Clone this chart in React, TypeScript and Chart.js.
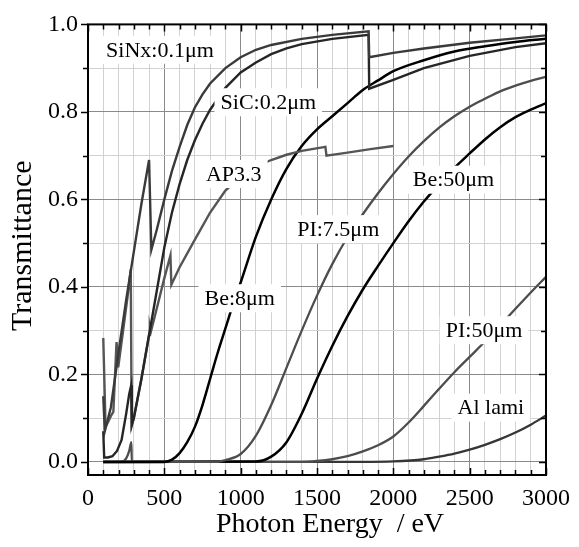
import React, { useEffect, useRef } from 'react';
import { Chart, registerables } from 'chart.js';

Chart.register(...registerables);

// ---- Data (photon energy in eV, transmittance) ----
const sinxE = [100, 110, 150, 200, 250, 300, 350, 400, 415, 450, 500, 550, 600, 650, 700, 750, 800, 900, 1000, 1100, 1200, 1400, 1600, 1838, 1842, 2000, 2200, 2500, 2800, 3000];
const sinxT = [0.15, 0.07, 0.125, 0.25, 0.37, 0.48, 0.59, 0.69, 0.485, 0.53, 0.6, 0.665, 0.72, 0.77, 0.81, 0.84, 0.865, 0.9, 0.925, 0.942, 0.953, 0.967, 0.976, 0.984, 0.925, 0.935, 0.945, 0.958, 0.968, 0.975];

const sicE = [100, 106, 130, 160, 190, 220, 250, 270, 283, 287, 300, 350, 400, 450, 500, 550, 600, 650, 700, 750, 800, 900, 1000, 1100, 1200, 1300, 1400, 1600, 1838, 1842, 2000, 2200, 2500, 2800, 3000];
const sicT = [0.07, 0.01, 0.01, 0.013, 0.025, 0.05, 0.11, 0.155, 0.175, 0.085, 0.1, 0.19, 0.29, 0.39, 0.49, 0.57, 0.635, 0.69, 0.735, 0.773, 0.805, 0.855, 0.89, 0.913, 0.932, 0.945, 0.955, 0.967, 0.976, 0.853, 0.873, 0.9, 0.928, 0.948, 0.957];

const ap33E = [100, 115, 130, 150, 166, 187, 198, 230, 260, 280, 286, 300, 350, 400, 405, 412, 450, 500, 540, 546, 600, 700, 800, 900, 1000, 1100, 1200, 1300, 1400, 1555, 1562, 1700, 1850, 2000];
const ap33T = [0.283, 0.08, 0.09, 0.105, 0.114, 0.274, 0.216, 0.3, 0.38, 0.44, 0.082, 0.1, 0.19, 0.29, 0.31, 0.298, 0.35, 0.42, 0.472, 0.405, 0.445, 0.508, 0.57, 0.62, 0.652, 0.675, 0.69, 0.702, 0.711, 0.72, 0.7, 0.707, 0.715, 0.722];

const be8E = [100, 500, 550, 600, 650, 700, 750, 800, 850, 900, 950, 1000, 1100, 1200, 1300, 1400, 1500, 1600, 1700, 1800, 1900, 2000, 2200, 2400, 2600, 2800, 3000];
const be8T = [0, 0, 0.005, 0.02, 0.045, 0.08, 0.13, 0.19, 0.25, 0.305, 0.36, 0.41, 0.515, 0.6, 0.67, 0.722, 0.76, 0.79, 0.82, 0.85, 0.872, 0.893, 0.918, 0.938, 0.95, 0.96, 0.967];

const pi75E = [100, 220, 250, 270, 284, 287, 850, 900, 1000, 1100, 1200, 1300, 1400, 1500, 1600, 1700, 1800, 1900, 2000, 2100, 2200, 2300, 2400, 2500, 2600, 2700, 2800, 2900, 3000];
const pi75T = [0, 0, 0.008, 0.025, 0.045, 0, 0, 0.004, 0.018, 0.06, 0.13, 0.215, 0.3, 0.38, 0.452, 0.514, 0.566, 0.614, 0.658, 0.698, 0.733, 0.764, 0.79, 0.812, 0.83, 0.847, 0.86, 0.871, 0.88];

const be50E = [100, 1100, 1200, 1300, 1400, 1500, 1600, 1700, 1800, 1900, 2000, 2100, 2200, 2300, 2400, 2500, 2600, 2700, 2800, 2900, 3000];
const be50T = [0, 0.001, 0.012, 0.045, 0.11, 0.19, 0.265, 0.333, 0.394, 0.448, 0.5, 0.55, 0.595, 0.635, 0.672, 0.705, 0.737, 0.765, 0.788, 0.805, 0.82];

const pi50E = [100, 1400, 1500, 1600, 1700, 1800, 1900, 2000, 2100, 2200, 2300, 2400, 2500, 2600, 2700, 2800, 2900, 3000];
const pi50T = [0, 0, 0.002, 0.006, 0.013, 0.024, 0.038, 0.058, 0.09, 0.128, 0.167, 0.205, 0.24, 0.275, 0.312, 0.35, 0.387, 0.423];

const alE = [100, 1800, 2000, 2200, 2300, 2400, 2500, 2600, 2700, 2800, 2900, 3000];
const alT = [0, 0, 0.001, 0.006, 0.012, 0.019, 0.028, 0.039, 0.052, 0.067, 0.085, 0.106];

const curveLabels = ['SiNx:0.1μm', 'SiC:0.2μm', 'AP3.3', 'Be:8μm', 'PI:7.5μm', 'Be:50μm', 'PI:50μm', 'Al lami'];
const xTitle = 'Photon Energy  / eV';
const yTitle = 'Transmittance';

// label anchor points in data coordinates (energy, transmittance)
const labelAnchors: [number, number][] = [
  [471, 0.942], [1181, 0.822], [955, 0.658], [994, 0.374],
  [1639, 0.532], [2394, 0.645], [2594, 0.301], [2639, 0.124],
];

const seriesStyle = [
  { E: sinxE, T: sinxT, color: '#3a3a3a', width: 2.4, smooth: false },
  { E: sicE, T: sicT, color: '#262626', width: 2.4, smooth: false },
  { E: ap33E, T: ap33T, color: '#555555', width: 2.4, smooth: false },
  { E: be8E, T: be8T, color: '#000000', width: 2.5, smooth: true },
  { E: pi75E, T: pi75T, color: '#4d4d4d', width: 2.3, smooth: true },
  { E: be50E, T: be50T, color: '#000000', width: 2.5, smooth: true },
  { E: pi50E, T: pi50T, color: '#4d4d4d', width: 2.3, smooth: true },
  { E: alE, T: alT, color: '#363636', width: 2.3, smooth: true },
];

const SERIF = '"Liberation Serif", "Times New Roman", serif';

const decorPlugin = {
  id: 'decor',
  afterDatasetsDraw(chart: any) {
    const { ctx, chartArea: a, scales } = chart;
    const x = scales.x;
    const y = scales.y;
    ctx.save();
    // curve labels with white boxes
    ctx.font = `22px ${SERIF}`;
    ctx.textAlign = 'center';
    ctx.textBaseline = 'middle';
    curveLabels.forEach((t, i) => {
      const px = x.getPixelForValue(labelAnchors[i][0]);
      const py = y.getPixelForValue(labelAnchors[i][1]);
      const w = ctx.measureText(t).width;
      ctx.fillStyle = '#ffffff';
      ctx.fillRect(px - w / 2 - 6, py - 14, w + 12, 28);
      ctx.fillStyle = '#000000';
      ctx.fillText(t, px, py + 1);
    });
    // frame
    ctx.strokeStyle = '#000';
    ctx.lineWidth = 2;
    ctx.strokeRect(a.left, a.top, a.right - a.left, a.bottom - a.top);
    // tick marks
    ctx.lineWidth = 1.5;
    ctx.beginPath();
    for (let v = 0; v <= 3000; v += 100) {
      const px = Math.round(x.getPixelForValue(v)) + 0.5;
      const len = v % 500 === 0 ? 7 : 5;
      ctx.moveTo(px, a.top);
      ctx.lineTo(px, a.top + len);
      ctx.moveTo(px, a.bottom);
      ctx.lineTo(px, a.bottom - len);
    }
    for (let k = 0; k <= 10; k++) {
      const py = Math.round(y.getPixelForValue(k / 10)) + 0.5;
      const len = k % 2 === 0 ? 7 : 5;
      ctx.moveTo(a.left, py);
      ctx.lineTo(a.left - len, py);
      ctx.moveTo(a.right, py);
      ctx.lineTo(a.right - len, py);
    }
    ctx.stroke();
    // axis titles
    ctx.fillStyle = '#000';
    ctx.font = `28px ${SERIF}`;
    ctx.textAlign = 'center';
    ctx.textBaseline = 'alphabetic';
    ctx.fillText(xTitle, (a.left + a.right) / 2 + 13, a.bottom + 57);
    ctx.save();
    ctx.translate(a.left - 65, (a.top + a.bottom) / 2 - 4);
    ctx.rotate(-Math.PI / 2);
    ctx.font = `30px ${SERIF}`;
    ctx.textBaseline = 'middle';
    ctx.fillText(yTitle, 0, 0);
    ctx.restore();
    ctx.restore();
  },
};

export default function App() {
  const ref = useRef<HTMLCanvasElement | null>(null);
  useEffect(() => {
    if (!ref.current) return;
    const chart = new Chart(ref.current, {
      type: 'line',
      data: {
        datasets: seriesStyle.map((s) => ({
          data: s.E.map((e, i) => ({ x: e, y: s.T[i] })),
          borderColor: s.color,
          borderWidth: s.width,
          pointRadius: 0,
          tension: 0,
          cubicInterpolationMode: s.smooth ? 'monotone' : 'default',
          fill: false,
        })),
      },
      options: {
        animation: false,
        responsive: false,
        devicePixelRatio: 1,
        events: [],
        layout: { padding: { left: 0, right: 26, top: 20, bottom: 0 } },
        plugins: { legend: { display: false }, tooltip: { enabled: false }, title: { display: false } },
        scales: {
          x: {
            type: 'linear',
            min: 0,
            max: 3000,
            afterFit: (s: any) => { s.height = 72; },
            ticks: {
              stepSize: 100,
              autoSkip: false,
              maxRotation: 0,
              padding: 9,
              color: '#000',
              font: { family: SERIF, size: 24 },
              callback: (v: any) => (Number(v) % 500 === 0 ? String(v) : ''),
            },
            grid: {
              drawTicks: false,
              lineWidth: 1,
              color: (c: any) => (c.tick && c.tick.value % 500 === 0 ? '#8a8a8a' : '#d2d2d2'),
            },
            border: { display: false },
          },
          y: {
            type: 'linear',
            min: -0.03,
            max: 1.0,
            afterFit: (s: any) => { s.width = 88; },
            afterBuildTicks: (s: any) => {
              const t = [];
              for (let k = 0; k <= 10; k++) t.push({ value: k / 10 });
              s.ticks = t;
            },
            ticks: {
              autoSkip: false,
              padding: 10,
              color: '#000',
              font: { family: SERIF, size: 24 },
              callback: (v: any) => {
                const k = Math.round(Number(v) * 10);
                return k % 2 === 0 ? (k / 10).toFixed(1) : '';
              },
            },
            grid: {
              drawTicks: false,
              lineWidth: 1,
              color: (c: any) => {
                const k = Math.round((c.tick ? c.tick.value : 0) * 10);
                return k % 2 === 0 ? '#8a8a8a' : '#d2d2d2';
              },
            },
            border: { display: false },
          },
        },
      },
      plugins: [decorPlugin],
    } as any);
    return () => chart.destroy();
  }, []);
  return (
    <div style={{ position: 'absolute', left: 0, top: 0, width: 579, height: 547, background: '#fff' }}>
      <canvas ref={ref} width={579} height={547} style={{ width: 579, height: 547, display: 'block' }} />
    </div>
  );
}
